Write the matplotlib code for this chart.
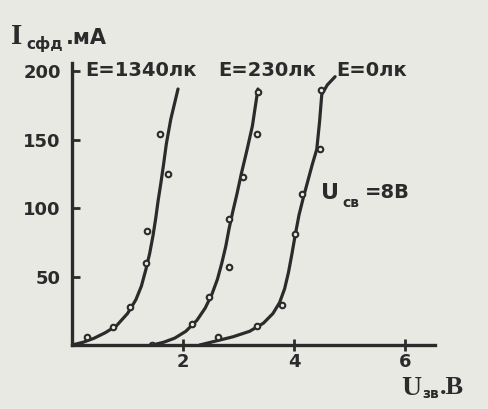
import matplotlib.pyplot as plt

# curves (U_зв in V, I_сфд in mA)
line_1340_x = [0.0, 0.2, 0.4, 0.6, 0.8, 1.0, 1.15, 1.25, 1.33, 1.4, 1.46, 1.51,
               1.55, 1.6, 1.65, 1.7, 1.78, 1.91]
line_1340_y = [0, 2, 5, 9, 14, 23, 33, 43, 55, 67, 80, 93, 105, 118, 132, 147,
               165, 187]
pts_1340_x = [0.27, 0.74, 1.04, 1.33, 1.35, 1.73, 1.59]
pts_1340_y = [6, 13, 28, 60, 83, 125, 154]

line_230_x = [1.45, 1.65, 1.85, 2.05, 2.25, 2.4, 2.52, 2.62, 2.7, 2.77, 2.83,
              2.9, 2.97, 3.05, 3.15, 3.25, 3.35]
line_230_y = [0, 2, 5, 10, 18, 27, 37, 48, 60, 72, 85, 98, 110, 125, 142, 160,
              187]
pts_230_x = [1.44, 2.16, 2.47, 2.83, 2.83, 3.08, 3.33, 3.35]
pts_230_y = [0, 15, 35, 57, 92, 123, 154, 185]

line_0_x = [2.3, 2.6, 2.9, 3.2, 3.45, 3.62, 3.74, 3.83, 3.9, 3.96, 4.02, 4.09,
            4.17, 4.25, 4.33, 4.41, 4.46, 4.5, 4.6, 4.74]
line_0_y = [0, 3, 6, 10, 16, 23, 31, 41, 53, 66, 80, 95, 108, 120, 132, 143,
            163, 183, 190, 196]
pts_0_x = [2.63, 3.33, 3.78, 4.02, 4.14, 4.47, 4.49]
pts_0_y = [6, 14, 29, 81, 110, 143, 186]

x_ticks = [2, 4, 6]
y_ticks = [50, 100, 150, 200]
curve_labels = ["E=1340лк", "E=230лк", "E=0лк"]

ink = '#2b2b2b'
paper = '#e9e9e4'

fig = plt.figure(figsize=(4.89, 4.09), dpi=100, facecolor=paper)
ax = fig.add_axes([72 / 489, 64 / 409, 363 / 489, 282 / 409], facecolor=paper)

curves = [(line_1340_x, line_1340_y, pts_1340_x, pts_1340_y),
          (line_230_x, line_230_y, pts_230_x, pts_230_y),
          (line_0_x, line_0_y, pts_0_x, pts_0_y)]
for lx, ly, px_, py_ in curves:
    ax.plot(lx, ly, color=ink, lw=2.3, solid_capstyle='round',
            solid_joinstyle='round')
    ax.plot(px_, py_, 'o', ms=4, mfc=paper, mec=ink, mew=1.5)

ax.set_xlim(0, 6.54)
ax.set_ylim(0, 206)
for s in ['top', 'right']:
    ax.spines[s].set_visible(False)
for s in ['left', 'bottom']:
    ax.spines[s].set_linewidth(2.4)
    ax.spines[s].set_color(ink)

ax.set_xticks(x_ticks)
ax.set_yticks(y_ticks)
ax.tick_params(axis='y', direction='in', length=6, width=2, color=ink, pad=8,
               labelsize=13, labelcolor=ink)
ax.tick_params(axis='x', direction='inout', length=8, width=2, color=ink, pad=2,
               labelsize=13, labelcolor=ink)
for lab in ax.get_xticklabels() + ax.get_yticklabels():
    lab.set_fontweight('bold')

def px(x, y):
    return x / 489, 1 - y / 409

# curve labels along the top
for lbl, xpos in zip(curve_labels, [85, 218, 336]):
    fig.text(*px(xpos, 76), lbl, fontsize=14, fontweight='bold', color=ink)

# y axis title
fig.text(*px(11, 44), "I", family='Liberation Serif', fontsize=21,
         fontweight='bold', color=ink)
fig.text(*px(26, 49), "сфд", fontsize=11, fontweight='bold', color=ink)
fig.text(*px(66, 44), ".мА", fontsize=15, fontweight='bold', color=ink)

# supply voltage note
fig.text(*px(321, 199), "U", fontsize=16, fontweight='bold', color=ink)
fig.text(*px(342, 207), "св", fontsize=10, fontweight='bold', color=ink)
fig.text(*px(365, 198), "=8В", fontsize=14, fontweight='bold', color=ink)

# x axis title
fig.text(*px(401, 395), "U", family='Liberation Serif', fontsize=20,
         fontweight='bold', color=ink)
fig.text(*px(422, 398), "зв", fontsize=10, fontweight='bold', color=ink)
fig.text(*px(440, 394), ".В", family='Liberation Serif', fontsize=19,
         fontweight='bold', color=ink)

fig.savefig('out.png', dpi=100, facecolor=paper)
